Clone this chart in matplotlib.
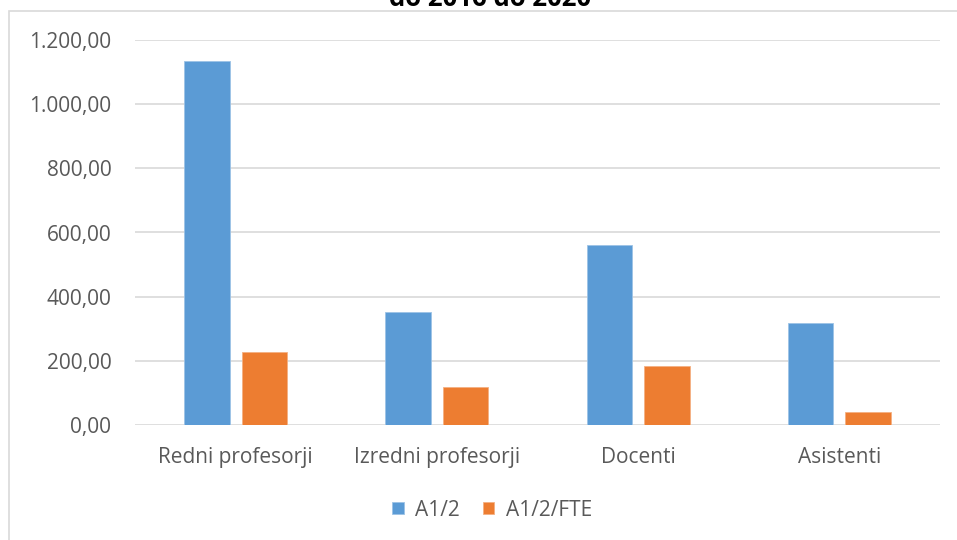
import matplotlib
matplotlib.use('Agg')
import matplotlib.pyplot as plt
from matplotlib.patches import Rectangle
import numpy as np

categories = ['Redni profesorji', 'Izredni profesorji', 'Docenti', 'Asistenti']
a12 = [1135, 352, 561, 319]
a12_fte = [227, 118, 184, 39]
series_names = ['A1/2', 'A1/2/FTE']
yticks = [0, 200, 400, 600, 800, 1000, 1200]
title_line = 'do 2016 do 2020'

plt.rcParams['font.family'] = ['Open Sans', 'DejaVu Sans']

W, H = 957, 540
fig = plt.figure(figsize=(W / 100, H / 100), dpi=100)

# chart border (clipped at right and bottom like the source)
fig.patches.append(Rectangle((9 / W, -0.05), 1.1, 1 - 11 / H + 0.05, transform=fig.transFigure,
                             fill=False, edgecolor='#D9D9D9', linewidth=1.2))

ax = fig.add_axes([135 / W, 1 - 425 / H, (940 - 135) / W, (425 - 40) / H])
x = np.arange(len(categories))
w = 0.227
off = 0.143
b1 = ax.bar(x - off, a12, w, color='#5B9BD5', edgecolor='#9DC3E6', linewidth=0.6, label=series_names[0], zorder=3)
b2 = ax.bar(x + off, a12_fte, w, color='#ED7D31', edgecolor='#F4B183', linewidth=0.6, label=series_names[1], zorder=3)

ax.set_xlim(-0.5, len(categories) - 0.5)
ax.set_ylim(0, 1200)
ax.set_yticks(yticks)
ax.set_yticklabels([('{:,.2f}'.format(v)).replace(',', 'X').replace('.', ',').replace('X', '.') for v in yticks])
ax.set_xticks(x)
ax.set_xticklabels(categories)
ax.tick_params(axis='both', length=0, labelsize=15, colors='#595959')
ax.tick_params(axis='y', pad=17)
ax.tick_params(axis='x', pad=16)
ax.grid(axis='y', color='#D9D9D9', linewidth=1.2, zorder=0)
for s in ax.spines.values():
    s.set_visible(False)

fig.legend(handles=[b1, b2], labels=series_names, loc='center', bbox_to_anchor=(492 / W, 1 - 510 / H),
           ncol=2, frameon=False, fontsize=15, handlelength=0.55, handleheight=0.55,
           handletextpad=0.55, columnspacing=1.1, labelcolor='#595959')

fig.text(490 / W, 1 - 6 / H, title_line, ha='center', va='baseline', fontsize=18.5,
         fontweight='bold', color='black')

fig.savefig('out.png', dpi=100)
